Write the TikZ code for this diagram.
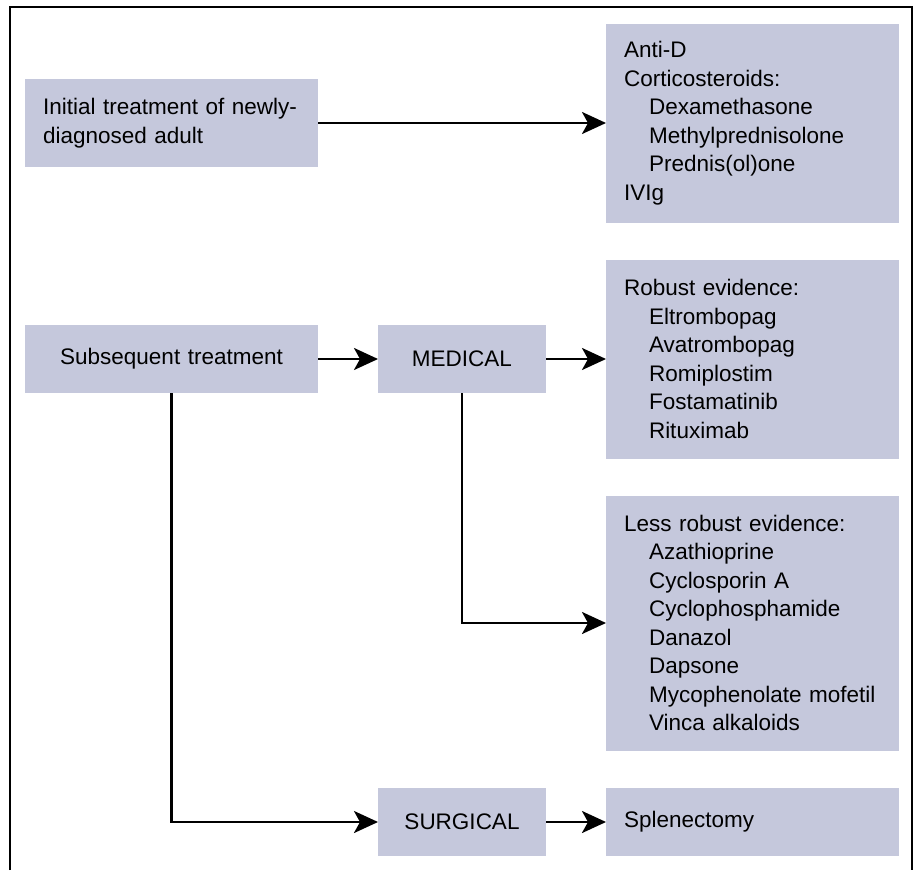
\documentclass[tikz,border=0pt]{standalone}
\usepackage{fontspec}
\setmainfont{Liberation Sans}
\usepackage{xcolor}
\usepackage{tikz}
\usetikzlibrary{positioning, arrows.meta}

\definecolor{boxFill}{RGB}{197,200,220}
\newcommand{\subItem}{\hspace*{25pt}}

\begin{document}
\begin{tikzpicture}[x=1pt, y=1pt,
    treatBox/.style={rectangle, fill=boxFill, inner xsep=18pt, inner ysep=0pt, outer sep=0pt,
                     font=\fontsize{22.5}{28.5}\selectfont},
    wideBox/.style={treatBox, text width=257pt, align=left},
    centerBox/.style={treatBox, text width=257pt, align=center},
    shortBox/.style={treatBox, text width=132pt, align=center},
    arrowLine/.style={draw, line width=2.6pt, -{Stealth[length=24pt, width=22pt, inset=6pt]}}]

  \useasboundingbox (0,0) rectangle (915,-870);
  \draw[line width=2.6pt] (10,-870) |- (912,-7) -- (912,-870);

  \node[wideBox, minimum height=88pt, anchor=west] (init) at (25,-123)
        {Initial treatment of newly-\\diagnosed adult};
  \node[wideBox, minimum height=199pt, right = 288pt of init] (firstLine)
        {Anti-D\\Corticosteroids:\\\subItem Dexamethasone\\\subItem Methylprednisolone\\\subItem Prednis(ol)one\\IVIg};

  \node[centerBox, minimum height=68pt, below = 158pt of init] (subsq) {Subsequent treatment};
  \node[shortBox, minimum height=68pt, right = 60pt of subsq] (medical) {MEDICAL};
  \node[wideBox, minimum height=199pt, right = 60pt of medical] (robust)
        {Robust evidence:\\\subItem Eltrombopag\\\subItem Avatrombopag\\\subItem Romiplostim\\\subItem Fostamatinib\\\subItem Rituximab};
  \node[wideBox, minimum height=255pt, below = 37pt of robust] (lessRobust)
        {Less robust evidence:\\\subItem Azathioprine\\\subItem Cyclosporin A\\\subItem Cyclophosphamide\\\subItem Danazol\\\subItem Dapsone\\\subItem Mycophenolate mofetil\\\subItem Vinca alkaloids};

  \node[shortBox, minimum height=68pt, below = 395pt of medical] (surgical) {SURGICAL};
  \node[wideBox, minimum height=68pt, right = 60pt of surgical] (splen) {Splenectomy};

  \draw[arrowLine] (init) -- (firstLine);
  \draw[arrowLine] (subsq) -- (medical);
  \draw[arrowLine] (medical) -- (robust);
  \draw[arrowLine] (medical.south) |- (lessRobust.west);
  \draw[arrowLine] (subsq.south) |- (surgical.west);
  \draw[arrowLine] (surgical) -- (splen);

\end{tikzpicture}
\end{document}
